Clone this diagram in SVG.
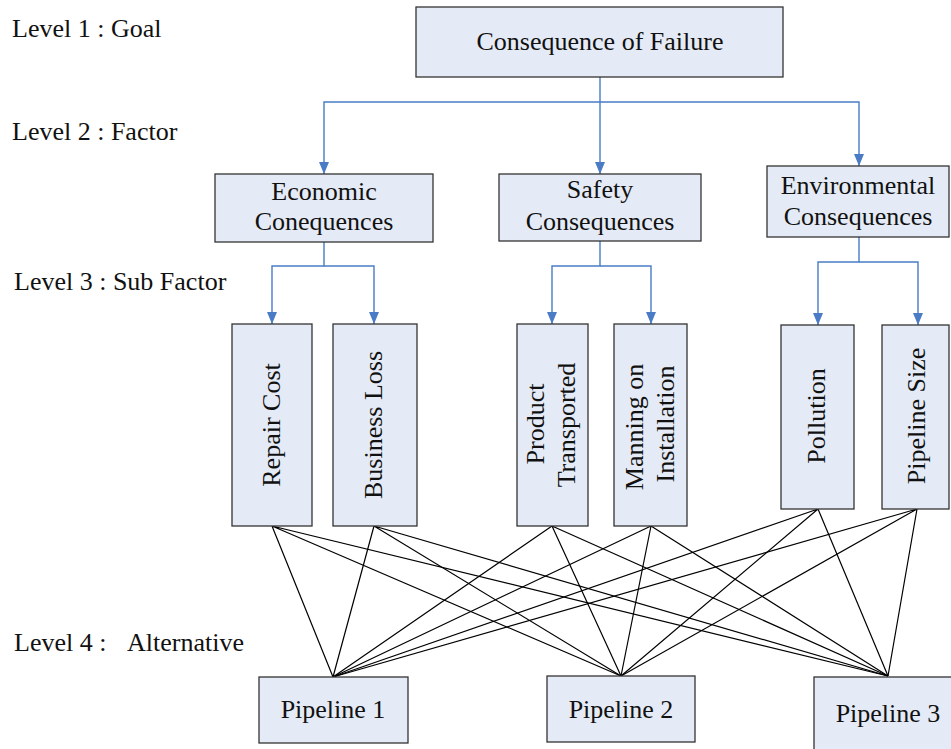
<svg xmlns="http://www.w3.org/2000/svg" width="951" height="749" viewBox="0 0 951 749">
  <defs>
    <marker id="arrow" viewBox="0 0 12 10" refX="12" refY="5" markerWidth="12" markerHeight="10" markerUnits="userSpaceOnUse" orient="auto">
      <path d="M0,0 L12,5 L0,10 z" fill="#4A7CC6"/>
    </marker>
    <style>
      .box { fill: #E5EBF6; stroke: #333333; stroke-width: 1.3; }
      .txt { font-family: "Liberation Serif", "Times New Roman", serif; font-size: 26px; fill: #111111; }
      .mid { text-anchor: middle; }
      .lvl { font-family: "Liberation Serif", "Times New Roman", serif; font-size: 26px; fill: #111111; }
      .tree { fill: none; stroke: #4A7CC6; stroke-width: 1.4; }
      .web { fill: none; stroke: #000000; stroke-width: 1.2; }
    </style>
  </defs>
  <rect width="951" height="749" fill="#FFFFFF"/>

  <!-- level labels -->
  <g id="levels">
    <text class="lvl" x="12" y="37">Level 1 : Goal</text>
    <text class="lvl" x="12" y="140">Level 2 : Factor</text>
    <text class="lvl" x="14" y="290">Level 3 : Sub Factor</text>
    <text class="lvl" x="14" y="651">Level 4 :<tspan x="127">Alternative</tspan></text>
  </g>

  <!-- connectors -->
  <g id="connectors">
    <path class="tree" d="M600,77 V102 H324 V174" marker-end="url(#arrow)"/>
    <path class="tree" d="M600,102 V174" marker-end="url(#arrow)"/>
    <path class="tree" d="M600,102 H859 V166" marker-end="url(#arrow)"/>
    <path class="tree" d="M324,242 V266 H272 V324" marker-end="url(#arrow)"/>
    <path class="tree" d="M324,266 H374 V324" marker-end="url(#arrow)"/>
    <path class="tree" d="M600,241 V266 H552 V324" marker-end="url(#arrow)"/>
    <path class="tree" d="M600,266 H651 V324" marker-end="url(#arrow)"/>
    <path class="tree" d="M859,237 V262 H818 V325" marker-end="url(#arrow)"/>
    <path class="tree" d="M859,262 H918 V325" marker-end="url(#arrow)"/>

    <!-- every sub factor to every alternative -->
    <path class="web" d="M272,526 L333,677 M272,526 L621,676 M272,526 L888,676"/>
    <path class="web" d="M374,526 L333,677 M374,526 L621,676 M374,526 L888,676"/>
    <path class="web" d="M552,526 L333,677 M552,526 L621,676 M552,526 L888,676"/>
    <path class="web" d="M651,526 L333,677 M651,526 L621,676 M651,526 L888,676"/>
    <path class="web" d="M818,509 L333,677 M818,509 L621,676 M818,509 L888,676"/>
    <path class="web" d="M917,509 L333,677 M917,509 L621,676 M917,509 L888,676"/>
  </g>

  <!-- level 1 -->
  <g id="goal">
    <rect class="box" x="416" y="7" width="367" height="70"/>
    <text class="txt mid" x="600" y="50">Consequence of Failure</text>
  </g>

  <!-- level 2 -->
  <g id="economic">
    <rect class="box" x="215" y="174" width="218" height="68"/>
    <text class="txt mid" x="324" y="200">Economic</text>
    <text class="txt mid" x="324" y="230">Conequences</text>
  </g>
  <g id="safety">
    <rect class="box" x="499" y="174" width="202" height="67"/>
    <text class="txt mid" x="600" y="198">Safety</text>
    <text class="txt mid" x="600" y="230">Consequences</text>
  </g>
  <g id="environmental">
    <rect class="box" x="767" y="166" width="182" height="71"/>
    <text class="txt mid" x="858" y="194">Environmental</text>
    <text class="txt mid" x="858" y="225">Consequences</text>
  </g>

  <!-- level 3 -->
  <g id="repair-cost">
    <rect class="box" x="232" y="324" width="80" height="202"/>
    <text class="txt mid" transform="translate(280,425) rotate(-90)">Repair Cost</text>
  </g>
  <g id="business-loss">
    <rect class="box" x="333" y="324" width="84" height="202"/>
    <text class="txt mid" transform="translate(382,425) rotate(-90)">Business Loss</text>
  </g>
  <g id="product-transported">
    <rect class="box" x="517" y="324" width="71" height="202"/>
    <text class="txt mid" transform="translate(544,424) rotate(-90)">Product</text>
    <text class="txt mid" transform="translate(575,425) rotate(-90)">Transported</text>
  </g>
  <g id="manning">
    <rect class="box" x="614" y="324" width="73" height="202"/>
    <text class="txt mid" transform="translate(643,427) rotate(-90)">Manning on</text>
    <text class="txt mid" transform="translate(674,424) rotate(-90)">Installation</text>
  </g>
  <g id="pollution">
    <rect class="box" x="781" y="325" width="73" height="184"/>
    <text class="txt mid" transform="translate(825,416) rotate(-90)">Pollution</text>
  </g>
  <g id="pipeline-size">
    <rect class="box" x="882" y="325" width="67" height="184"/>
    <text class="txt mid" transform="translate(925,416) rotate(-90)">Pipeline Size</text>
  </g>

  <!-- level 4 -->
  <g id="pipeline-1">
    <rect class="box" x="259" y="677" width="149" height="66"/>
    <text class="txt mid" x="333" y="718">Pipeline 1</text>
  </g>
  <g id="pipeline-2">
    <rect class="box" x="547" y="676" width="148" height="66"/>
    <text class="txt mid" x="621" y="718">Pipeline 2</text>
  </g>
  <g id="pipeline-3">
    <rect class="box" x="814" y="677" width="145" height="80"/>
    <text class="txt mid" x="888" y="722">Pipeline 3</text>
  </g>
</svg>
